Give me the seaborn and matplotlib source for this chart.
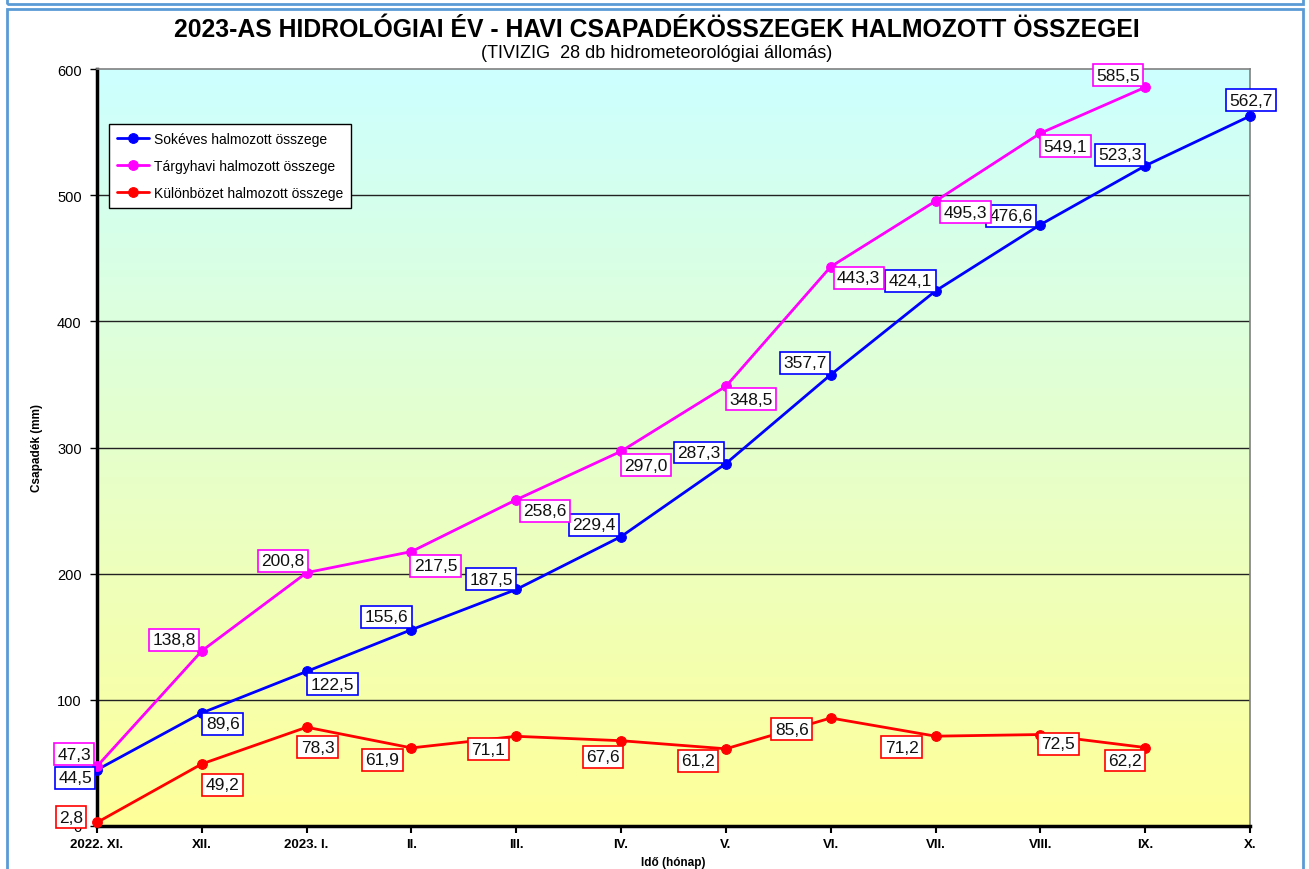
import numpy as np
import pandas as pd
import matplotlib
matplotlib.use('Agg')
import matplotlib.pyplot as plt
from matplotlib.patches import Rectangle
import seaborn as sns

# Data
months = ['2022. XI.', 'XII.', '2023. I.', 'II.', 'III.', 'IV.', 'V.', 'VI.',
          'VII.', 'VIII.', 'IX.', 'X.']
sokeves = [44.5, 89.6, 122.5, 155.6, 187.5, 229.4, 287.3, 357.7, 424.1, 476.6, 523.3, 562.7]
targyhavi = [47.3, 138.8, 200.8, 217.5, 258.6, 297.0, 348.5, 443.3, 495.3, 549.1, 585.5]
kulonbseg = [2.8, 49.2, 78.3, 61.9, 71.1, 67.6, 61.2, 85.6, 71.2, 72.5, 62.2]
y_ticks = [0, 100, 200, 300, 400, 500, 600]

series_names = ['Sokéves halmozott összege', 'Tárgyhavi halmozott összege',
                'Különbözet halmozott összege']
series_values = [sokeves, targyhavi, kulonbseg]
colors = ['#0000FF', '#FF00FF', '#FF0000']

# label offsets in pixels (dx, dy) from each point
offsets = [
    [(-22, -8), (21, -11), (26, -13), (-25, 13), (-25, 10), (-27, 12), (-27, 11),
     (-26, 12), (-25, 10), (-29, 9), (-25, 11), (1, 16)],
    [(-23, 12), (-28, 11), (-24, 12), (24, -14), (29, -11), (25, -14), (25, -13),
     (28, -11), (30, -11), (25, -13), (-27, 12)],
    [(-26, 5), (21, -21), (11, -20), (-29, -12), (-28, -13), (-18, -16), (-28, -12),
     (-39, -11), (-34, -11), (18, -9), (-20, -13)],
]

sns.set_style("white")
plt.rcParams['font.family'] = ['Liberation Sans', 'DejaVu Sans']
plt.rcParams.update({'text.color': 'black', 'axes.labelcolor': 'black',
                     'xtick.color': 'black', 'ytick.color': 'black'})

fig = plt.figure(figsize=(13.09, 8.70), dpi=100)
ax = fig.add_axes([97 / 1309, 1 - 827 / 870, (1250 - 97) / 1309, (827 - 70) / 870])

# gradient background: cyan at top, pale yellow at bottom
top_c = np.array([0xCC, 0xFF, 0xFF]) / 255
bot_c = np.array([0xFF, 0xFF, 0x99]) / 255
t = np.linspace(0, 1, 256)[:, None]
grad = (top_c * (1 - t) + bot_c * t).reshape(256, 1, 3)
ax.imshow(grad, extent=[0, 1, 0, 1], transform=ax.transAxes, aspect='auto', zorder=0)

for name, vals, col in zip(series_names, series_values, colors):
    df = pd.DataFrame({'x': np.arange(len(vals)), 'y': vals})
    sns.lineplot(data=df, x='x', y='y', ax=ax, color=col, lw=2.0, marker='o',
                 markersize=7, markeredgecolor=col, label=name, clip_on=False, zorder=3)

for vals, col, offs in zip(series_values, colors, offsets):
    for i, (v, off) in enumerate(zip(vals, offs)):
        ax.annotate(f'{v:.1f}'.replace('.', ','), (i, v), xytext=off,
                    textcoords='offset pixels', ha='center', va='center',
                    fontsize=12.5, color='#111111', zorder=5,
                    bbox=dict(boxstyle='square,pad=0.2', fc='white', ec=col, lw=1.2),
                    annotation_clip=False)

ax.set_xlim(0, 11)
ax.set_ylim(0, 600)
ax.set_yticks(y_ticks)
ax.set_xticks(range(len(months)))
ax.set_xticklabels(months, fontsize=9.5, fontweight='bold')
ax.tick_params(axis='y', labelsize=10.5, length=5, width=1, direction='out', left=True, pad=6)
ax.tick_params(axis='x', length=5, width=1.5, direction='out', bottom=True, pad=4)
for yv in y_ticks[1:-1]:
    ax.axhline(yv, color='#222222', lw=1, zorder=1)

for s in ['left', 'bottom']:
    ax.spines[s].set_color('black')
    ax.spines[s].set_linewidth(2.5)
for s in ['top', 'right']:
    ax.spines[s].set_color('#808080')
    ax.spines[s].set_linewidth(1.2)

ax.set_xlabel('Idő (hónap)', fontsize=8.5, fontweight='bold', labelpad=4)
ax.set_ylabel('Csapadék (mm)', fontsize=8.5, fontweight='bold', labelpad=10)

leg = ax.legend(loc='upper left', bbox_to_anchor=(0.0104, 0.927), fontsize=10,
                frameon=True, fancybox=False, framealpha=1, edgecolor='black',
                handlelength=2.3, handletextpad=0.4, borderpad=0.55, labelspacing=0.95,
                borderaxespad=0)
leg.get_frame().set_linewidth(1)

fig.text(657 / 1309, 1 - 30 / 870, '2023-AS HIDROLÓGIAI ÉV - HAVI CSAPADÉKÖSSZEGEK HALMOZOTT ÖSSZEGEI',
         ha='center', va='center', fontsize=17.8, fontweight='bold')
fig.text(657 / 1309, 1 - 53 / 870, '(TIVIZIG  28 db hidrometeorológiai állomás)',
         ha='center', va='center', fontsize=13)

# light blue frames
frame_c = '#5B9BD5'
fig.add_artist(Rectangle((7 / 1309, 1 - 5 / 870), 1296 / 1309, 0.05, transform=fig.transFigure,
                         fill=False, ec=frame_c, lw=2))
fig.add_artist(Rectangle((7 / 1309, -0.05), 1296 / 1309, 1.05 - 10 / 870, transform=fig.transFigure,
                         fill=False, ec=frame_c, lw=2))

plt.savefig('out.png', dpi=100)
